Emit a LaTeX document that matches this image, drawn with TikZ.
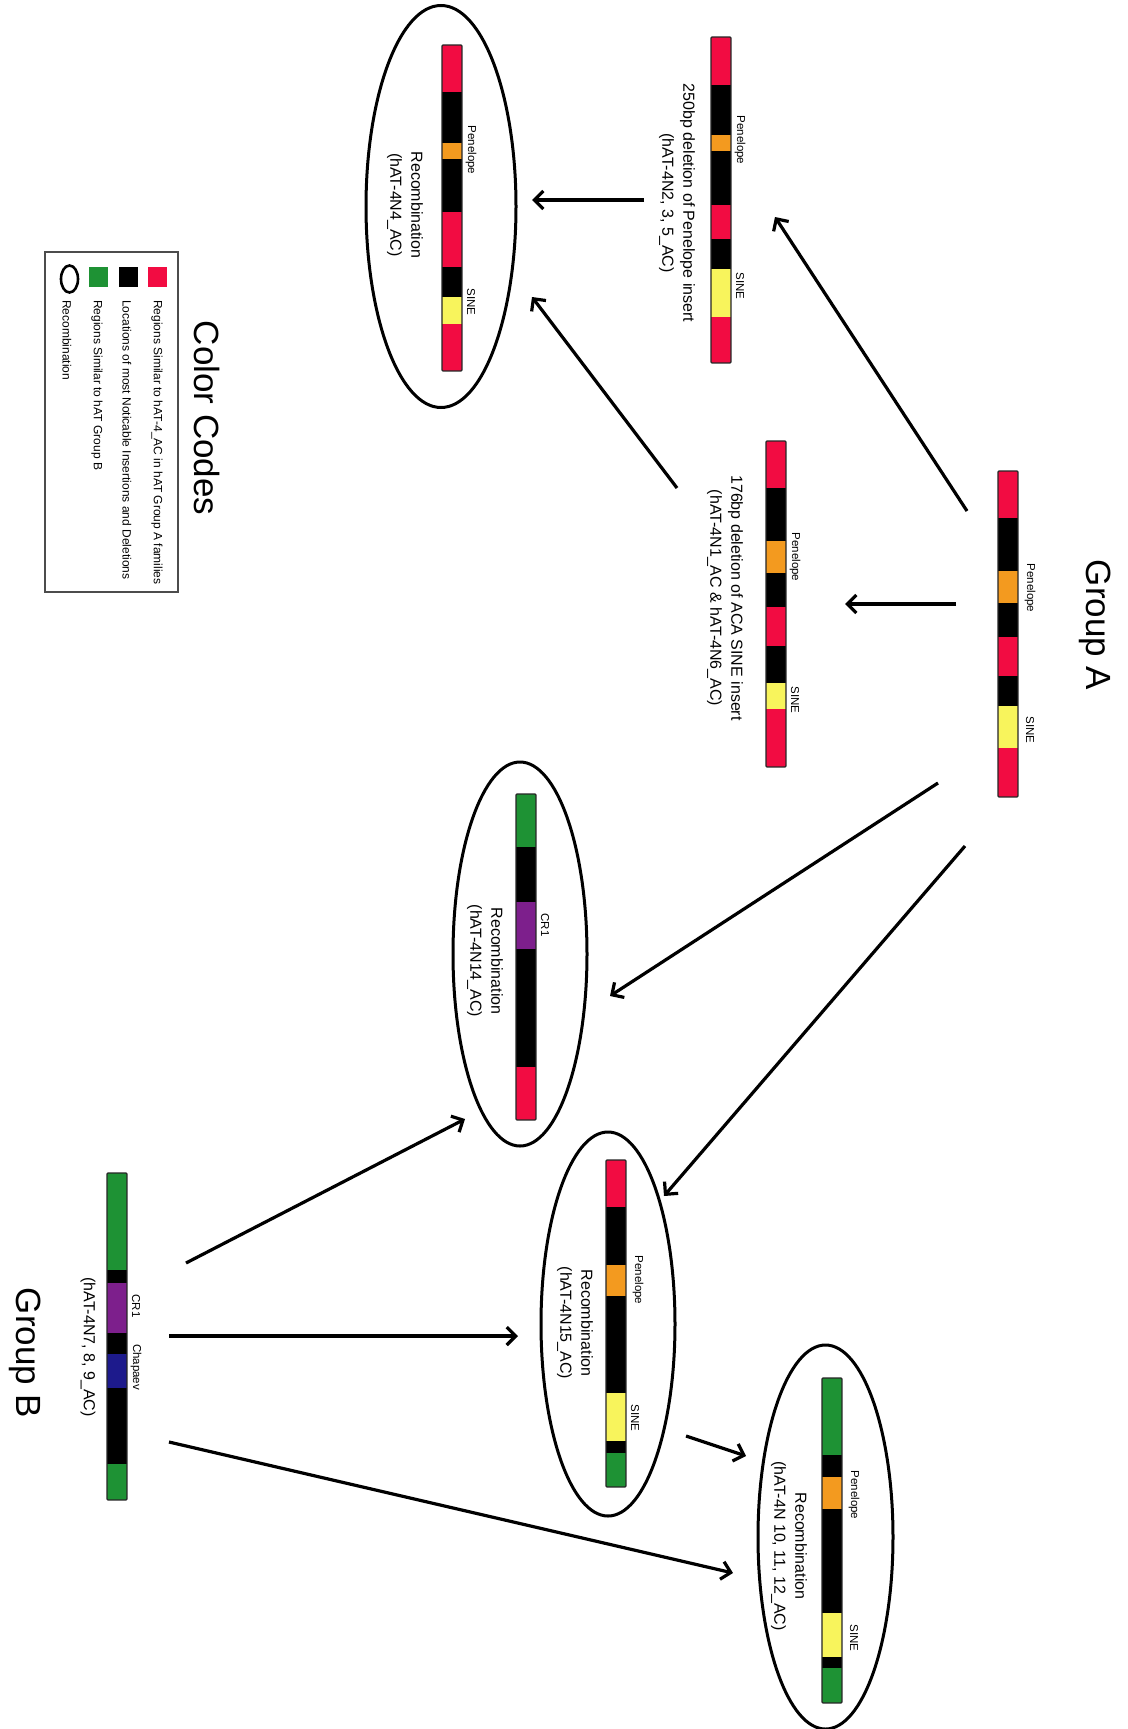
\documentclass[tikz,border=0pt]{standalone}
\usepackage{fontspec}
\setmainfont{Liberation Sans}
\usetikzlibrary{arrows.meta,shapes.geometric,fit}
\definecolor{gred}{HTML}{F20C42}
\definecolor{gorange}{HTML}{F39A1F}
\definecolor{gyellow}{HTML}{F8F45C}
\definecolor{ggreen}{HTML}{1E9234}
\definecolor{gpurple}{HTML}{7D1F8C}
\definecolor{gblue}{HTML}{1D1A8C}
\newcommand\drawsegs[2]{\foreach \ya/\yb/\cc in {#2} {\fill[\cc] (#1,\ya) rectangle ({#1+20},\yb);}}
\begin{document}
\begin{tikzpicture}[x=1pt,y=-1pt,
  lbl/.style={rotate=-90, font=\fontsize{11.5}{13}\selectfont, inner sep=0},
  legtxt/.style={rotate=-90, font=\fontsize{12}{13}\selectfont, inner sep=0, anchor=west},
  captxt/.style={rotate=-90, font=\fontsize{16}{21}\selectfont, align=center, inner sep=0},
  rectxt/.style={rotate=-90, font=\fontsize{16}{21}\selectfont, align=center, inner sep=0},
  ttl/.style={rotate=-90, font=\fontsize{35}{40}\selectfont, inner sep=0},
  barbox/.style={draw=black!85, line width=1.2pt, inner sep=0, rounded corners=1pt},
  recomb/.style={ellipse, draw, line width=3pt, inner sep=0},
  arr/.style={line width=3.2pt, -{Straight Barb[length=9pt,width=18pt]}},
  swatch/.style={minimum width=19, minimum height=20, inner sep=0}]
\useasboundingbox (0,0) rectangle (1127,1729);
\fill[white] (0,0) rectangle (1127,1729);

% titles
\node[ttl] (gA) at (1095,625) {Group A};
\node[ttl] (cc) at (207,418) {Color Codes};
\node[ttl] (gB) at (25,1353) {Group B};

% ellipses
\node[recomb, minimum width=150, minimum height=402] (e4) at (441,206.5) {};
\node[recomb, minimum width=134, minimum height=384] (e14) at (520,954) {};
\node[recomb, minimum width=134, minimum height=384] (e15) at (608,1324) {};
\node[recomb, minimum width=135, minimum height=384] (e10) at (825.5,1537) {};

% bars
\drawsegs{998}{471/518/gred,518/571/black,571/603/gorange,603/637/black,637/676/gred,676/706/black,706/748/gyellow,748/797/gred}
\node[barbox, fit={(998,471)(1018,797)}] (barA) {};
\drawsegs{766}{441/488/gred,488/541/black,541/573/gorange,573/607/black,607/646/gred,646/683/black,683/709/gyellow,709/767/gred}
\node[barbox, fit={(766,441)(786,767)}] (bar176) {};
\drawsegs{711}{37/85/gred,85/135/black,135/151/gorange,151/205/black,205/239/gred,239/269/black,269/317/gyellow,317/363/gred}
\node[barbox, fit={(711,37)(731,363)}] (bar250) {};
\drawsegs{442}{45/92/gred,92/143/black,143/159/gorange,159/212/black,212/267/gred,267/297/black,297/324/gyellow,324/371/gred}
\node[barbox, fit={(442,45)(462,371)}] (bar4) {};
\drawsegs{516}{794/847/ggreen,847/902/black,902/949/gpurple,949/1067/black,1067/1120/gred}
\node[barbox, fit={(516,794)(536,1120)}] (bar14) {};
\drawsegs{606}{1160/1207/gred,1207/1265/black,1265/1296/gorange,1296/1393/black,1393/1441/gyellow,1441/1453/black,1453/1487/ggreen}
\node[barbox, fit={(606,1160)(626,1487)}] (bar15) {};
\drawsegs{822}{1378/1455/ggreen,1455/1477/black,1477/1509/gorange,1509/1613/black,1613/1657/gyellow,1657/1668/black,1668/1703/ggreen}
\node[barbox, fit={(822,1378)(842,1703)}] (bar10) {};
\drawsegs{107}{1173/1270/ggreen,1270/1283/black,1283/1333/gpurple,1333/1354/black,1354/1388/gblue,1388/1464/black,1464/1500/ggreen}
\node[barbox, fit={(107,1173)(127,1500)}] (barB) {};

% bar labels
\node[lbl] (pA) at (1030,588) {Penelope};
\node[lbl] (sA) at (1030,730) {SINE};
\node[lbl] (p176) at (795,557) {Penelope};
\node[lbl] (s176) at (795,700) {SINE};
\node[lbl] (p250) at (740,140) {Penelope};
\node[lbl] (s250) at (740,286) {SINE};
\node[lbl] (p4) at (471,150) {Penelope};
\node[lbl] (s4) at (471,302) {SINE};
\node[lbl] (c14) at (545,925) {CR1};
\node[lbl] (p15) at (638,1280) {Penelope};
\node[lbl] (s15) at (635,1418) {SINE};
\node[lbl] (p10) at (854,1495) {Penelope};
\node[lbl] (s10) at (854,1638) {SINE};
\node[lbl] (cB) at (136,1306) {CR1};
\node[lbl] (chB) at (136,1367) {Chapaev};

% captions
\node[captxt] (t250) at (677,203) {250bp deletion of Penelope insert\\(hAT-4N2, 3, 5\_AC)};
\node[captxt] (t176) at (725,598) {176bp deletion of ACA SINE insert\\(hAT-4N1\_AC \& hAT-4N6\_AC)};
\node[rectxt] (t4) at (405,205) {Recombination\\(hAT-4N4\_AC)};
\node[rectxt] (t14) at (485,961) {Recombination\\(hAT-4N14\_AC)};
\node[rectxt] (t15) at (575,1323) {Recombination\\(hAT-4N15\_AC)};
\node[rectxt] (t10) at (789,1546) {Recombination\\(hAT-4N 10, 11, 12\_AC)};
\node[captxt] (tB) at (88,1347) {(hAT-4N7, 8, 9\_AC)};

% legend
\node[draw=black!70, line width=1.2pt, inner sep=0, fit={(45,252)(178,592)}] (legend) {};
\node[swatch, fill=gred] (sw1) at (157.5,277) {};
\node[swatch, fill=black] (sw2) at (128,277) {};
\node[swatch, fill=ggreen] (sw3) at (98.5,277) {};
\node[ellipse, draw, line width=2.6pt, inner sep=0, minimum width=17, minimum height=27] (sw4) at (69.5,279) {};
\node[legtxt] (l1) at (157,300) {Regions Similar to hAT-4\_AC in hAT Group A families};
\node[legtxt] (l2) at (127,300) {Locations of most Noticable Insertions and Deletions};
\node[legtxt] (l3) at (97,300) {Regions Similar to hAT Group B};
\node[legtxt] (l4) at (67,300) {Recombination};

% arrow end points
\coordinate (a1s) at (967,511);  \coordinate (a1e) at (775,217);
\coordinate (a2s) at (956,604);  \coordinate (a2e) at (845,604);
\coordinate (a3s) at (644,200);  \coordinate (a3e) at (532,200);
\coordinate (a4s) at (677,488);  \coordinate (a4e) at (532,297);
\coordinate (a5s) at (938,783);  \coordinate (a5e) at (610,996);
\coordinate (a6s) at (965,846);  \coordinate (a6e) at (664,1196);
\coordinate (a7s) at (186,1263); \coordinate (a7e) at (465,1119);
\coordinate (a8s) at (169,1336); \coordinate (a8e) at (518,1336);
\coordinate (a9s) at (169,1442); \coordinate (a9e) at (733,1573);
\coordinate (a10s) at (686,1436); \coordinate (a10e) at (746,1456);

\foreach \i in {1,...,10} {\draw[arr] (a\i s) -- (a\i e);}
\end{tikzpicture}
\end{document}
